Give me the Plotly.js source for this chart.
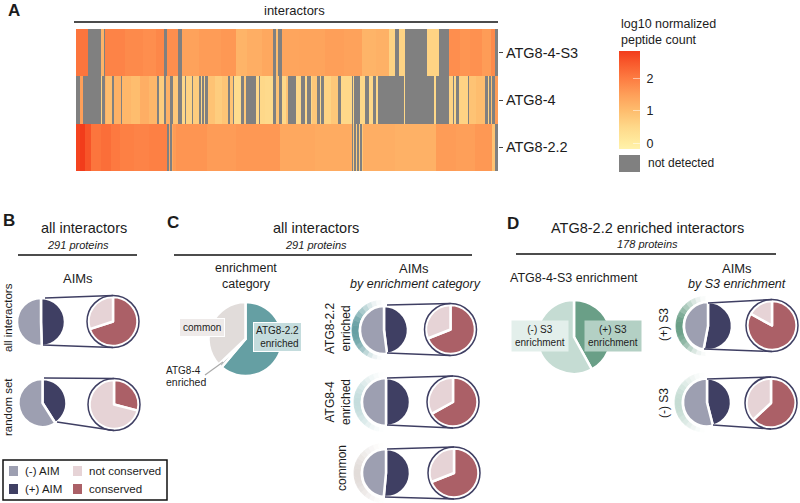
<!DOCTYPE html>
<html><head><meta charset="utf-8">
<script src="https://cdn.plot.ly/plotly-3.0.1.min.js"></script>
<style>html,body{margin:0;padding:0;background:#fff}#c{width:800px;height:503px}</style>
</head><body><div id="c"></div>
<script>
// ---- Data: heatmap runs, [last column of run, log10 value] (null = not detected) ----
const heatRows = ['ATG8-2.2', 'ATG8-4', 'ATG8-4-S3'];
const proteinCount = 291;
const runsS3 = [[8,2.1],[17,null],[19,1.15],[20,null],[34,1.9],[46,1.8],[55,1.75],[61,1.85],[63,null],[70,1.75],[73,null],[85,1.45],[100,1.55],[110,1.6],[118,1.15],[128,1.25],[136,1.35],[138,null],[139,1.0],[142,null],[154,1.4],[172,1.42],[185,1.5],[197,1.45],[207,1.15],[216,1.2],[220,0.6],[223,null],[227,0.6],[242,null],[250,0.6],[257,null],[265,1.75],[272,1.65],[280,1.7],[286,1.55],[289,1.8],[291,null]];
const runs4 = [[3,null],[5,1.5],[17,null],[18,0.6],[20,null],[21,1.2],[25,1.0],[26,null],[31,1.2],[32,null],[38,1.1],[44,1.0],[50,1.25],[56,1.1],[57,null],[61,0.7],[62,null],[65,1.2],[67,null],[70,0.8],[73,null],[75,0.5],[76,null],[80,0.6],[81,null],[85,0.7],[86,null],[87,0.5],[88,null],[89,0.6],[91,null],[96,0.9],[101,0.7],[105,0.85],[106,null],[108,0.9],[109,null],[114,0.4],[116,null],[117,0.8],[124,null],[126,0.5],[127,null],[130,0.5],[136,0.45],[138,null],[140,0.9],[142,null],[145,0.5],[146,0.9],[152,null],[155,0.5],[158,null],[159,0.5],[162,null],[163,0.5],[166,0.8],[168,null],[169,0.5],[171,null],[176,0.6],[181,0.8],[183,null],[190,0.5],[191,null],[192,0.5],[196,null],[199,0.5],[202,null],[205,0.5],[207,null],[208,0.5],[211,null],[226,null],[227,0.5],[247,null],[248,0.5],[257,null],[260,0.6],[261,null],[262,0.5],[264,null],[270,0.6],[271,null],[276,0.9],[282,1.0],[284,null],[285,0.6],[286,null],[287,0.9],[289,null],[291,1.55]];
const runs22 = [[3,2.75],[6,2.85],[10,2.55],[17,2.1],[24,2.2],[30,2.05],[40,1.95],[50,1.9],[63,1.95],[64,null],[65,1.4],[66,null],[67,1.3],[69,1.55],[90,1.65],[110,1.55],[125,1.6],[141,1.6],[165,1.35],[190,1.3],[191,null],[192,0.8],[193,null],[194,0.7],[195,null],[196,0.7],[197,null],[198,0.8],[220,1.25],[248,1.2],[262,1.55],[275,1.5],[287,1.6],[289,0.9],[291,null]];

// ---- Data: pies (percent) ----
const enrichCategory = [178, 5, 108];       // ATG8-2.2 enriched, ATG8-4 enriched, common
const s3Enrichment = [42, 58];              // (+) S3, (-) S3
const aimAll = [49.5, 50.5];                // (+) AIM, (-) AIM
const aimRandom = [41, 59];
const aimC22 = [48, 52];
const aimC4 = [50, 50];
const aimCCommon = [51.5, 48.5];
const aimD3plus = [53, 47];
const aimD3minus = [46, 54];
const consAll = [70, 30];                   // conserved, not conserved
const consRandom = [29, 71];
const consC22 = [69, 31];
const consC4 = [67, 33];
const consCCommon = [69, 31];
const consD3plus = [83, 17];
const consD3minus = [63, 37];
// fading crescent behind some AIM pies: tint strength per 10-degree step
const arcAlpha = [0.04,0.12,0.25,0.42,0.6,0.75,0.88,0.97,1,1,0.95,0.85,0.7,0.55,0.4,0.25,0.12,0.04];

// ---- Styles ----
const FONT = '"Liberation Sans", Arial, sans-serif';
const W = 800, H = 503;
const cMinus='#9d9fb1', cPlus='#3f3f63', cNot='#e6d3d6', cCons='#ab6067', NAVY='#3f3f63';
const px = x => x / W, py = y => 1 - y / H;

function expand(runs){ const out=[]; runs.forEach(([end,v])=>{ while(out.length<end) out.push(v); }); return out; }
const colIdx = Array.from({length: proteinCount}, (_, i) => i + 0.5);
const heat = {
  type:'heatmap', x: colIdx, y: heatRows, z:[expand(runs22), expand(runs4), expand(runsS3)],
  zmin:-0.18, zmax:2.85, hoverinfo:'skip', zsmooth:false,
  colorscale:[[0,'#fff2ac'],[0.06,'#ffeca0'],[0.22,'#fed98a'],[0.39,'#febd6e'],[0.555,'#fe9f59'],[0.72,'#fd7c42'],[0.885,'#f8582b'],[1,'#f23c1b']],
  colorbar:{x:px(619),xanchor:'left',xpad:0,y:py(51),yanchor:'top',ypad:0,thickness:21,thicknessmode:'pixels',len:98,lenmode:'pixels',
    tickvals:[0,1,2],ticktext:['\u00a00','\u00a01','\u00a02'],ticks:'inside',ticklen:7,tickcolor:'rgba(255,255,255,0.5)',tickwidth:1,outlinewidth:0,borderwidth:0,
    tickfont:{family:FONT,size:12.5,color:'#222'}}
};

function pie(cx,cy,r,values,colors,opt){
  opt=opt||{};
  return {type:'pie',values:values,sort:false,direction:'clockwise',rotation:opt.rotation||0,
    marker:{colors:colors,line:opt.lineSpec||{color:'#fff',width:opt.line===undefined?2.5:opt.line}},
    textinfo:'none',hoverinfo:'skip',showlegend:false,
    domain:{x:[px(cx-r),px(cx+r)],y:[py(cy+r),py(cy-r)]}};
}
function tint(rgb,a){ return 'rgb('+rgb.map(c=>Math.round(255+(c-255)*a)).join(',')+')'; }
function crescent(cx,cy,rgb){
  const vals=arcAlpha.map(()=>10).concat([180]);
  const cols=arcAlpha.map(a=>tint(rgb,a)).concat(['#ffffff']);
  const widths=arcAlpha.map(()=>0.8).concat([0]);
  return [pie(cx-2.5,cy,29.5,vals,cols,{rotation:180,lineSpec:{color:cols,width:widths}}), pie(cx+0.5,cy+0.5,26,[1],['#fff'],{line:0})];
}

const shapes=[], annotations=[], pies=[];
const line=(x0,y0,x1,y1,c,w)=>shapes.push({type:'line',xref:'paper',yref:'paper',x0:px(x0),y0:py(y0),x1:px(x1),y1:py(y1),line:{color:c||'#111',width:w||1.5}});
const rect=(x0,y0,x1,y1,fill)=>shapes.push({type:'rect',xref:'paper',yref:'paper',x0:px(x0),y0:py(y0),x1:px(x1),y1:py(y1),fillcolor:fill,line:{width:0}});
const txt=(t,x,y,o)=>{o=o||{};annotations.push(Object.assign({text:t,xref:'paper',yref:'paper',x:px(x),y:py(y),xanchor:'center',yanchor:'middle',showarrow:false,
  font:{family:FONT,size:o.size||12,color:o.color||'#1c1c1c'},align:o.align||'center'},o.extra||{}))};

function aimGroup(g){
  if(g.arc) pies.push(...crescent(g.cx,g.cy,g.arc));
  pies.push(pie(g.cx,g.cy,24,g.aim,[cPlus,cMinus],{rotation:g.rot||0}));
  shapes.push({type:'circle',xref:'paper',yref:'paper',x0:px(g.rx-26),x1:px(g.rx+26),y0:py(g.ry+26),y1:py(g.ry-26),line:{color:NAVY,width:1.5},fillcolor:'rgba(0,0,0,0)'});
  pies.push(pie(g.rx,g.ry,24.5,g.cons,[cCons,cNot]));
  line(g.t[0],g.t[1],g.rx,g.ry-26,NAVY,1.4);
  line(g.b[0],g.b[1],g.rx,g.ry+26,NAVY,1.4);
}
const TEAL=[101,159,163], TEALL=[197,221,221], SAND=[226,220,217], GREEN=[106,159,135], GREENL=[197,220,211];

// Panel B
aimGroup({cx:41,cy:322,rx:113,ry:321.5,aim:aimAll,cons:consAll,t:[45,298],b:[43,345]});
aimGroup({cx:42.5,cy:403,rx:114,ry:404.5,aim:aimRandom,cons:consRandom,t:[44,378],b:[57,422]});
// Panel C
pies.push(pie(245.5,339,37,enrichCategory,['#659fa3','#b9c4c4','#e1dcda']));
aimGroup({cx:384,cy:330,rx:450.5,ry:329.5,aim:aimC22,cons:consC22,arc:TEAL,t:[387,305],b:[387,353]});
aimGroup({cx:386,cy:402,rx:453,ry:402,aim:aimC4,cons:consC4,arc:TEALL,t:[387,378],b:[387,425]});
aimGroup({cx:386,cy:473,rx:454,ry:473,aim:aimCCommon,cons:consCCommon,arc:SAND,t:[387,449],b:[385,497]});
// Panel D
pies.push(pie(574,337,37,s3Enrichment,['#6a9f87','#c5dcd3']));
aimGroup({cx:708,cy:326,rx:772,ry:325.5,aim:aimD3plus,cons:consD3plus,arc:GREEN,t:[708,303],b:[704,349]});
aimGroup({cx:707,cy:402.5,rx:771,ry:403,aim:aimD3minus,cons:consD3minus,arc:GREENL,t:[707,379],b:[713,425]});

// Panel A text
txt('<b>A</b>',14,11,{size:17});
txt('interactors',294,10,{size:13});
line(74,22,498,22,'#111',1.5);
txt('log10 normalized<br>peptide count',619,32,{size:12.5,align:'left',extra:{xanchor:'left'}});
rect(619,155,640,172,'#808080');
txt('not detected',645.5,163,{size:12,extra:{xanchor:'left'}});

// Panel B text
txt('<b>B</b>',9,221,{size:17});
txt('all interactors',84,228,{size:14.5});
txt('<i>291 proteins</i>',78,245,{size:11});
line(18,255,137,255);
txt('AIMs',78,278,{size:13});
txt('all interactors',8,318,{size:11.5,extra:{textangle:-90}});
txt('random set',8,407,{size:11.5,extra:{textangle:-90}});
shapes.push({type:'rect',xref:'paper',yref:'paper',x0:px(3),x1:px(167),y0:py(500),y1:py(460),line:{color:'#111',width:1.5},fillcolor:'rgba(0,0,0,0)'});
rect(9,466,18,476,cMinus); rect(9,484,18,494,cPlus); rect(73,466,82,476,cNot); rect(73,484,82,494,cCons);
txt('(-) AIM',23,471,{size:11.5,extra:{xanchor:'left'}});
txt('(+) AIM',23,489,{size:11.5,extra:{xanchor:'left'}});
txt('not conserved',87,471,{size:11.5,extra:{xanchor:'left'}});
txt('conserved',87,489,{size:11.5,extra:{xanchor:'left'}});

// Panel C text
txt('<b>C</b>',173,222,{size:17});
txt('all interactors',316,228,{size:14.5});
txt('<i>291 proteins</i>',316,245,{size:11});
line(174,255,472,255);
txt('enrichment',246,268,{size:12.5});
txt('category',246,284,{size:12.5});
txt('AIMs',414,268,{size:13});
txt('<i>by enrichment category</i>',415,284,{size:12.5});
txt('common',202,327,{size:10,extra:{bgcolor:'#eeeae9',bordercolor:'#fff',borderwidth:1,borderpad:3}});
txt('ATG8-2.2<br>enriched',277,337,{size:10,align:'right',extra:{xanchor:'center',bgcolor:'#c4dcdd',bordercolor:'#fff',borderwidth:1,borderpad:2}});
txt('ATG8-4',183,370,{size:10});
txt('enriched',186,382,{size:10.5});
line(205,375,223,362,'#aaa',1.2);
txt('ATG8-2.2<br>enriched',338,329,{size:12,extra:{textangle:-90}});
txt('ATG8-4<br>enriched',338,402,{size:12,extra:{textangle:-90}});
txt('common',342,468,{size:12,extra:{textangle:-90}});

// Panel D text
txt('<b>D</b>',513,223,{size:17});
txt('ATG8-2.2 enriched interactors',647,228,{size:14.5});
txt('<i>178 proteins</i>',647,244,{size:11});
line(516,254,776,254);
txt('ATG8-4-S3 enrichment',574,278,{size:12.5});
txt('AIMs',737,268,{size:13});
txt('<i>by S3 enrichment</i>',737,284,{size:12.5});
txt('(-) S3<br>enrichment',540,336,{size:10,extra:{bgcolor:'#e3efeb',borderpad:3}});
txt('(+) S3<br>enrichment',613,336,{size:10,extra:{bgcolor:'#b3d0c4',borderpad:3}});
txt('(+) S3',664,325,{size:12,extra:{textangle:-90}});
txt('(-) S3',664,403,{size:12,extra:{textangle:-90}});

const layout = {
  width:W, height:H, margin:{l:0,r:0,t:0,b:0}, paper_bgcolor:'#fff', plot_bgcolor:'#808080',
  showlegend:false, font:{family:FONT,color:'#1c1c1c'},
  xaxis:{domain:[px(76),px(498)],range:[0,proteinCount],visible:false,fixedrange:true},
  yaxis:{domain:[py(171),py(29)],side:'right',anchor:'x',type:'category',ticks:'outside',ticklen:4,tickcolor:'#444',tickwidth:1,showline:false,showgrid:false,zeroline:false,
    tickfont:{family:FONT,size:14.5,color:'#1c1c1c'},fixedrange:true},
  shapes:shapes, annotations:annotations
};
Plotly.newPlot('c',[heat].concat(pies),layout,{displayModeBar:false,staticPlot:true});
</script></body></html>
